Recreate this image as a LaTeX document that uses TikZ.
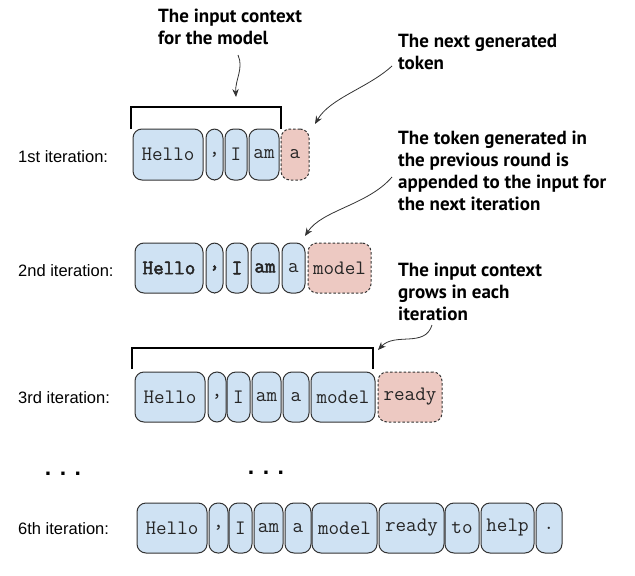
\documentclass[tikz,border=0pt]{standalone}
\usepackage{fontspec}
\setmainfont{Liberation Sans}
\newfontfamily\annfont{PT Sans}
\newfontfamily\monofnt{Latin Modern Mono}[BoldFont={Latin Modern Mono}, BoldFeatures={FakeBold=2.5}]
\usetikzlibrary{arrows.meta}
\definecolor{tokblue}{HTML}{CFE2F3}
\definecolor{tokpink}{HTML}{EDC9C2}
\definecolor{bordergray}{HTML}{333333}
\newcommand{\tokfont}{\monofnt\fontsize{20.5}{22}\selectfont}
\tikzset{
  tok/.style={draw=bordergray, fill=tokblue, rounded corners=9pt, line width=1pt,
    minimum height=50, inner sep=0pt, font=\tokfont, text=black!85},
  gen/.style={tok, fill=tokpink, dash pattern=on 2.5pt off 2pt},
  bold/.style={font=\tokfont\bfseries},
  itlab/.style={anchor=west, inner sep=0pt, font=\fontsize{16.5}{18}\selectfont},
  ann/.style={anchor=north west, inner sep=0pt, align=left,
    font=\annfont\bfseries\fontsize{19}{22}\selectfont},
  bracket/.style={line width=2pt, black},
  callout/.style={draw=black!80, line width=0.8pt, -{Stealth[length=8pt,width=6.5pt]}},
  dots/.style={inner sep=0pt, font=\bfseries\fontsize{23}{24}\selectfont}
}
\begin{document}
\begin{tikzpicture}[x=1pt,y=-1pt]
\useasboundingbox (0,0) rectangle (635,576);

% iteration labels
\node[itlab] (l1) at (18,157) {1st iteration:};
\node[itlab] (l2) at (18,271) {2nd iteration:};
\node[itlab] (l3) at (18,398) {3rd iteration:};
\node[itlab] (l6) at (18,529) {6th iteration:};

% row 1
\node[tok, minimum width=70, minimum height=51] (r1a) at (168,154.5) {Hello};
\node[tok, minimum width=17, minimum height=51] (r1b) at (214.5,154.5) {,};
\node[tok, minimum width=22, minimum height=51] (r1c) at (236,154.5) {I};
\node[tok, minimum width=30, minimum height=51] (r1d) at (264,154.5) {am};
\node[gen, minimum width=28, minimum height=51] (r1e) at (295,154.5) {a};

% row 2
\node[tok, bold, minimum width=68] (r2a) at (169,268) {Hello};
\node[tok, bold, minimum width=17] (r2b) at (214.5,268) {,};
\node[tok, bold, minimum width=22] (r2c) at (237,268) {I};
\node[tok, bold, minimum width=28] (r2d) at (265,268) {am};
\node[tok, minimum width=23] (r2e) at (293.5,268) {a};
\node[gen, minimum width=63] (r2f) at (339.5,268) {model};

% row 3
\node[tok, minimum width=70] (r3a) at (170,397) {Hello};
\node[tok, minimum width=18] (r3b) at (217,397) {,};
\node[tok, minimum width=23] (r3c) at (238.5,397) {I};
\node[tok, minimum width=29] (r3d) at (266.5,397) {am};
\node[tok, minimum width=26] (r3e) at (296,397) {a};
\node[tok, minimum width=64] (r3f) at (343,397) {model};
\node[gen, minimum width=64] (r3g) at (410,397) {ready};

% row 6
\node[tok, minimum width=70] (r6a) at (172,528) {Hello};
\node[tok, minimum width=19] (r6b) at (218.5,528) {,};
\node[tok, minimum width=23] (r6c) at (240.5,528) {I};
\node[tok, minimum width=29] (r6d) at (268.5,528) {am};
\node[tok, minimum width=26] (r6e) at (298,528) {a};
\node[tok, minimum width=65] (r6f) at (344.5,528) {model};
\node[tok, minimum width=65] (r6g) at (411.5,528) {ready};
\node[tok, minimum width=34] (r6h) at (462,528) {to};
\node[tok, minimum width=53] (r6i) at (507.5,528) {help};
\node[tok, minimum width=26] (r6j) at (549,528) {.};

% dots
\node[dots] (d1) at (63,474) {. . .};
\node[dots] (d2) at (266,473) {. . .};

% brackets
\coordinate (b1l) at (131,129);
\coordinate (b1r) at (281,129);
\draw[bracket] (b1l) -- ++(0,-22) -| (b1r);
\coordinate (b3l) at (132,369);
\coordinate (b3r) at (373,369);
\draw[bracket] (b3l) -- ++(0,-21) -| (b3r);

% annotations
\node[ann] (a1) at (158,9) {The input context\\for the model};
\node[ann] (a2) at (398,34) {The next generated\\token};
\node[ann] (a3) at (398,131) {The token generated in\\the previous round is\\appended to the input for\\the next iteration};
\node[ann] (a4) at (398,263) {The input context\\grows in each\\iteration};

% callout arrows
\coordinate (t1) at (236,97);
\coordinate (s1) at (238,55);
\draw[callout] (s1) .. controls (244,68) and (235,80) .. (t1);
\coordinate (t2) at (315,124);
\coordinate (s2) at (392,66);
\draw[callout] (s2) .. controls (368,88) and (330,98) .. (t2);
\coordinate (t3) at (305,236);
\coordinate (s3) at (392,177);
\draw[callout] (s3) .. controls (368,205) and (322,210) .. (t3);
\coordinate (t4) at (378,350);
\coordinate (s4) at (432,325);
\draw[callout] (s4) .. controls (425,348) and (395,332) .. (t4);
\end{tikzpicture}
\end{document}
